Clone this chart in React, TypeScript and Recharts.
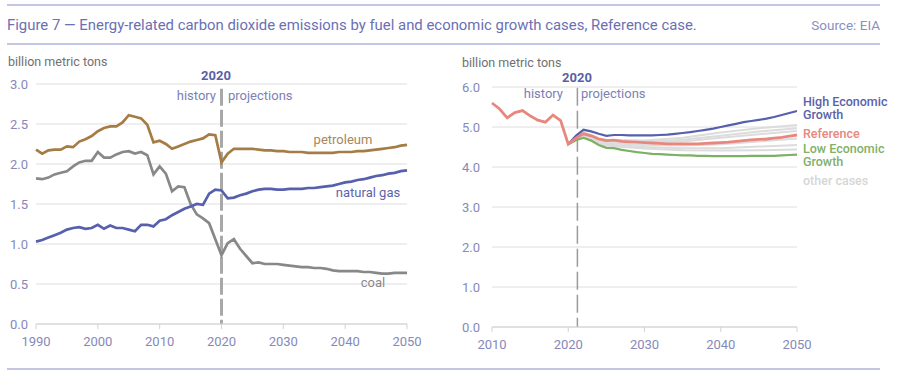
import React from 'react';
import { LineChart, Line, XAxis, YAxis, CartesianGrid, ReferenceLine } from 'recharts';

// ---------- Left chart: emissions by fuel (billion metric tons) ----------
const fuelYears: number[] = Array.from({ length: 61 }, (_, i) => 1990 + i);

const petroleum = [
  2.18, 2.13, 2.17, 2.18, 2.18, 2.22, 2.21, 2.28, 2.31, 2.35,
  2.41, 2.45, 2.47, 2.47, 2.52, 2.61, 2.59, 2.57, 2.49, 2.27,
  2.29, 2.25, 2.19, 2.22, 2.25, 2.28, 2.30, 2.32, 2.37, 2.36,
  2.02, 2.13, 2.19, 2.19, 2.19, 2.19, 2.18, 2.17, 2.17, 2.16,
  2.16, 2.15, 2.15, 2.15, 2.14, 2.14, 2.14, 2.14, 2.14, 2.15,
  2.15, 2.15, 2.16, 2.16, 2.17, 2.18, 2.19, 2.20, 2.21, 2.23,
  2.24,
];

const naturalGas = [
  1.03, 1.05, 1.08, 1.11, 1.14, 1.18, 1.20, 1.21, 1.19, 1.20,
  1.24, 1.19, 1.23, 1.20, 1.20, 1.18, 1.16, 1.24, 1.24, 1.22,
  1.29, 1.31, 1.36, 1.40, 1.44, 1.47, 1.50, 1.49, 1.63, 1.68,
  1.67, 1.57, 1.58, 1.61, 1.63, 1.66, 1.68, 1.69, 1.69, 1.68,
  1.68, 1.69, 1.69, 1.69, 1.70, 1.70, 1.71, 1.72, 1.73, 1.75,
  1.77, 1.78, 1.80, 1.81, 1.83, 1.85, 1.86, 1.88, 1.89, 1.91,
  1.92,
];

const coal = [
  1.82, 1.81, 1.83, 1.87, 1.89, 1.91, 1.97, 2.02, 2.04, 2.04,
  2.15, 2.08, 2.08, 2.12, 2.15, 2.16, 2.13, 2.15, 2.11, 1.87,
  1.97, 1.88, 1.66, 1.72, 1.71, 1.50, 1.37, 1.32, 1.26, 1.06,
  0.86, 1.01, 1.06, 0.94, 0.85, 0.76, 0.77, 0.75, 0.75, 0.75,
  0.74, 0.73, 0.72, 0.71, 0.71, 0.70, 0.70, 0.69, 0.67, 0.66,
  0.66, 0.66, 0.66, 0.65, 0.65, 0.64, 0.63, 0.63, 0.64, 0.64,
  0.64,
];

const fuelXTicks = [1990, 2000, 2010, 2020, 2030, 2040, 2050];
const fuelYTicks = [0, 0.5, 1.0, 1.5, 2.0, 2.5, 3.0];
const fuelDivider = 2020;

// ---------- Right chart: economic growth cases ----------
const caseYears: number[] = Array.from({ length: 41 }, (_, i) => 2010 + i);

const referenceCase = [
  5.60, 5.45, 5.23, 5.36, 5.41, 5.28, 5.17, 5.12, 5.30, 5.16,
  4.57, 4.72, 4.83, 4.78, 4.70, 4.66, 4.67, 4.64, 4.63, 4.62,
  4.61, 4.60, 4.59, 4.58, 4.58, 4.58, 4.58, 4.58, 4.59, 4.60,
  4.61, 4.62, 4.64, 4.66, 4.68, 4.69, 4.70, 4.72, 4.74, 4.77,
  4.80,
];

const projYears: number[] = Array.from({ length: 31 }, (_, i) => 2020 + i);

const highGrowth = [
  4.57, 4.78, 4.93, 4.89, 4.83, 4.78, 4.80, 4.80, 4.79, 4.79,
  4.79, 4.79, 4.80, 4.81, 4.83, 4.85, 4.87, 4.90, 4.93, 4.96,
  5.00, 5.04, 5.08, 5.12, 5.15, 5.18, 5.21, 5.25, 5.30, 5.35,
  5.40,
];

const lowGrowth = [
  4.57, 4.67, 4.73, 4.66, 4.55, 4.48, 4.47, 4.43, 4.40, 4.37,
  4.35, 4.33, 4.32, 4.31, 4.30, 4.29, 4.29, 4.28, 4.28, 4.27,
  4.27, 4.27, 4.27, 4.27, 4.28, 4.28, 4.28, 4.28, 4.29, 4.30,
  4.31,
];

const otherYears = [2020, 2021, 2022, 2023, 2024, 2025, 2030, 2035, 2040, 2045, 2050];
const otherCase1 = [4.57, 4.74, 4.86, 4.80, 4.72, 4.68, 4.66, 4.73, 4.86, 4.97, 5.05];
const otherCase2 = [4.57, 4.73, 4.85, 4.79, 4.70, 4.66, 4.63, 4.68, 4.78, 4.89, 4.97];
const otherCase3 = [4.57, 4.72, 4.83, 4.77, 4.68, 4.64, 4.61, 4.64, 4.73, 4.82, 4.90];
const otherCase4 = [4.57, 4.71, 4.81, 4.74, 4.64, 4.60, 4.55, 4.54, 4.57, 4.64, 4.71];
const otherCase5 = [4.57, 4.70, 4.79, 4.72, 4.61, 4.56, 4.50, 4.47, 4.47, 4.51, 4.55];
const otherCase6 = [4.57, 4.69, 4.77, 4.70, 4.58, 4.53, 4.46, 4.42, 4.41, 4.42, 4.44];
const otherCases = [otherCase1, otherCase2, otherCase3, otherCase4, otherCase5, otherCase6];

const caseXTicks = [2010, 2020, 2030, 2040, 2050];
const caseYTicks = [0, 1, 2, 3, 4, 5, 6];
const caseDivider = 2021.2;

// ---------- Build tables ----------
const fuelData = fuelYears.map((year, i) => ({
  year,
  petroleum: petroleum[i],
  naturalGas: naturalGas[i],
  coal: coal[i],
}));

const caseData = caseYears.map((year, i) => {
  const row: Record<string, number | null> = { year, reference: referenceCase[i] };
  const p = projYears.indexOf(year);
  row.high = p >= 0 ? highGrowth[p] : null;
  row.low = p >= 0 ? lowGrowth[p] : null;
  const o = otherYears.indexOf(year);
  otherCases.forEach((arr, k) => {
    row['other' + k] = o >= 0 ? arr[o] : null;
  });
  return row;
});

// ---------- Styles ----------
const FONT = 'Roboto, "Liberation Sans", sans-serif';
const TICK_COLOR = '#8589bb';
const GRID = '#dedede';
const C_PET = '#a67c45';
const C_GAS = '#5660ad';
const C_COAL = '#888888';
const C_REF = '#e8877d';
const C_HIGH = '#5660ad';
const C_LOW = '#7cb064';
const C_OTHER = '#dcdcdc';

const tickStyle = { fill: TICK_COLOR, fontSize: 13, fontFamily: FONT };

export default function App() {
  return (
    <div style={{ position: 'absolute', left: 0, top: 0, width: 900, height: 377, background: '#fff', fontFamily: FONT }}>
      <div style={{ position: 'absolute', left: 0, top: 0 }}>
        <LineChart width={430} height={377} data={fuelData} margin={{ top: 84, right: 23, bottom: 23, left: 0 }}>
          <CartesianGrid vertical={false} stroke={GRID} strokeWidth={1} />
          <XAxis
            dataKey="year"
            type="number"
            domain={[1990, 2050]}
            ticks={fuelXTicks}
            interval={0}
            height={30}
            tickSize={5}
            tickMargin={8}
            axisLine={{ stroke: '#d2d2d2' }}
            tickLine={{ stroke: '#d2d2d2' }}
            tick={tickStyle}
          />
          <YAxis
            domain={[0, 3]}
            ticks={fuelYTicks}
            interval={0}
            width={36}
            axisLine={false}
            tickLine={false}
            tickSize={0}
            tickMargin={8}
            tick={tickStyle}
            tickFormatter={(v: number) => v.toFixed(1)}
          />
          <ReferenceLine
            segment={[{ x: fuelDivider, y: 2.94 }, { x: fuelDivider, y: 0 }]}
            stroke="#a8a8a8"
            strokeWidth={3}
            strokeDasharray="17 4"
          />
          <Line type="linear" dataKey="coal" stroke={C_COAL} strokeWidth={2.7} dot={false} isAnimationActive={false} />
          <Line type="linear" dataKey="naturalGas" stroke={C_GAS} strokeWidth={2.7} dot={false} isAnimationActive={false} />
          <Line type="linear" dataKey="petroleum" stroke={C_PET} strokeWidth={2.7} dot={false} isAnimationActive={false} />
        </LineChart>
      </div>

      <div style={{ position: 'absolute', left: 450, top: 0 }}>
        <LineChart width={450} height={377} data={caseData} margin={{ top: 87, right: 103, bottom: 20, left: 0 }}>
          <CartesianGrid vertical={false} stroke={GRID} strokeWidth={1} />
          <XAxis
            dataKey="year"
            type="number"
            domain={[2010, 2050]}
            ticks={caseXTicks}
            interval={0}
            height={30}
            tickSize={5}
            tickMargin={8}
            axisLine={{ stroke: '#d2d2d2' }}
            tickLine={{ stroke: '#d2d2d2' }}
            tick={tickStyle}
          />
          <YAxis
            domain={[0, 6]}
            ticks={caseYTicks}
            interval={0}
            width={42}
            axisLine={false}
            tickLine={false}
            tickSize={0}
            tickMargin={12}
            tick={tickStyle}
            tickFormatter={(v: number) => v.toFixed(1)}
          />
          <ReferenceLine
            segment={[{ x: caseDivider, y: 5.98 }, { x: caseDivider, y: 0 }]}
            stroke="#9a9a9a"
            strokeWidth={1.5}
            strokeDasharray="18 5"
          />
          {otherCases.map((_, k) => (
            <Line
              key={k}
              type="linear"
              dataKey={'other' + k}
              stroke={C_OTHER}
              strokeWidth={2}
              dot={false}
              connectNulls
              isAnimationActive={false}
            />
          ))}
          <Line type="linear" dataKey="low" stroke={C_LOW} strokeWidth={2.2} dot={false} isAnimationActive={false} />
          <Line type="linear" dataKey="high" stroke={C_HIGH} strokeWidth={2.2} dot={false} isAnimationActive={false} />
          <Line type="linear" dataKey="reference" stroke={C_REF} strokeWidth={2.8} dot={false} isAnimationActive={false} />
        </LineChart>
      </div>

      <svg width={900} height={377} style={{ position: 'absolute', left: 0, top: 0, pointerEvents: 'none' }} fontFamily={FONT}>
        <line x1={7} x2={880} y1={5} y2={5} stroke="#b0b3da" strokeWidth={1.5} />
        <line x1={7} x2={880} y1={44} y2={44} stroke="#b0b3da" strokeWidth={1.5} />
        <line x1={7} x2={880} y1={369} y2={369} stroke="#b0b3da" strokeWidth={1.5} />
        <text x={7} y={29.5} fontSize={14.9} fill="#6b70b3">
          Figure 7 — Energy-related carbon dioxide emissions by fuel and economic growth cases, Reference case.
        </text>
        <text x={880} y={29.5} fontSize={13.5} fill="#8b8fbf" textAnchor="end">Source: EIA</text>

        <text x={8} y={66} fontSize={12.5} fill="#707070">billion metric tons</text>
        <text x={462} y={67} fontSize={12.5} fill="#707070">billion metric tons</text>

        <text x={216} y={80} fontSize={13} fontWeight={700} fill="#5a5fa5" textAnchor="middle">2020</text>
        <text x={216} y={100} fontSize={13} fill="#7c81b5" textAnchor="end">history</text>
        <text x={228} y={100} fontSize={13} fill="#7c81b5">projections</text>

        <text x={577} y={82} fontSize={13} fontWeight={700} fill="#5a5fa5" textAnchor="middle">2020</text>
        <text x={563} y={98} fontSize={13} fill="#7c81b5" textAnchor="end">history</text>
        <text x={581} y={98} fontSize={13} fill="#7c81b5">projections</text>

        <text x={343} y={144} fontSize={13} fill="#a8875a" textAnchor="middle">petroleum</text>
        <text x={368} y={197} fontSize={13} fill="#5c64ad" textAnchor="middle">natural gas</text>
        <text x={373} y={287} fontSize={13} fill="#8a8a8a" textAnchor="middle">coal</text>

        <text x={803} y={105.5} fontSize={12.5} fontWeight={500} fill="#5a62aa">High Economic</text>
        <text x={803} y={119} fontSize={12.5} fontWeight={500} fill="#5a62aa">Growth</text>
        <text x={803} y={138} fontSize={12.5} fontWeight={500} fill={C_REF}>Reference</text>
        <text x={803} y={152.5} fontSize={12.5} fontWeight={500} fill="#80b06a">Low Economic</text>
        <text x={803} y={166} fontSize={12.5} fontWeight={500} fill="#80b06a">Growth</text>
        <text x={803} y={184.5} fontSize={12.5} fontWeight={500} fill="#d6d6d6">other cases</text>
      </svg>
    </div>
  );
}
